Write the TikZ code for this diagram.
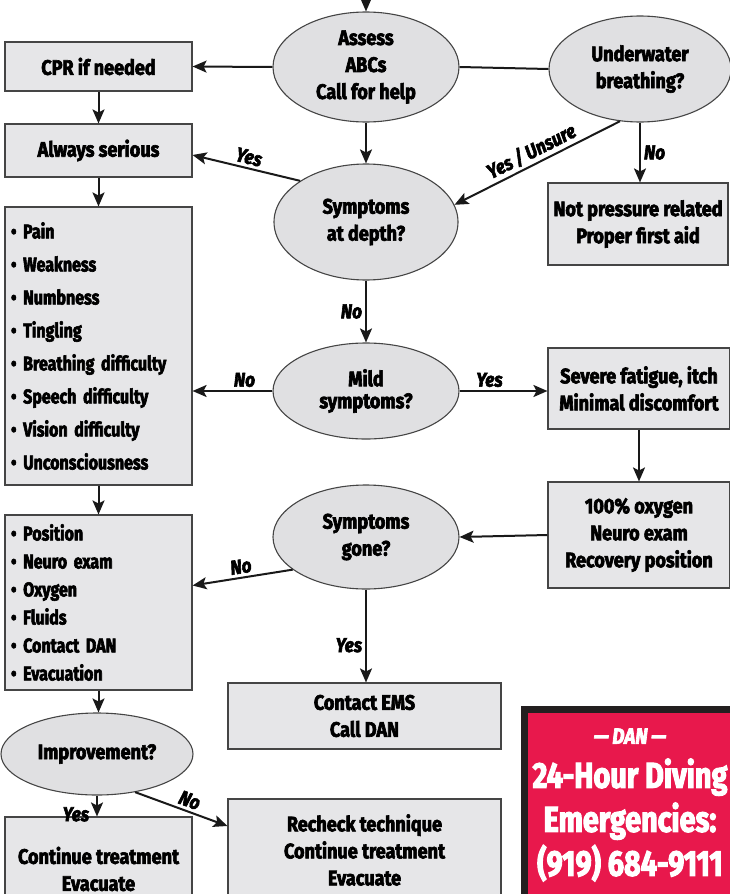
\documentclass[tikz,border=0pt]{standalone}
\usepackage{fontspec}
\setmainfont{Fira Sans}[FakeStretch=0.86, BoldFeatures={FakeBold=3}, BoldItalicFeatures={FakeBold=3}]
\newfontfamily\listfont{Fira Sans}[FakeStretch=0.8, BoldFeatures={FakeBold=3}]
\usetikzlibrary{arrows.meta,positioning,shapes.geometric}
\definecolor{boxgray}{HTML}{E6E6E8}
\definecolor{ovalgray}{HTML}{E0E0E2}
\definecolor{edgegray}{HTML}{454545}
\definecolor{danred}{HTML}{E8184C}
\definecolor{danblack}{HTML}{231F20}
\tikzset{
  dcsbox/.style={draw=edgegray, line width=1.1pt, fill=boxgray, align=center, inner sep=0pt, font=\bfseries\fontsize{21}{27}\selectfont},
  dcslist/.style={dcsbox, align=left, text width=175pt, inner xsep=6pt, inner ysep=0pt},
  dcsoval/.style={ellipse, draw=edgegray, line width=1.1pt, fill=ovalgray, align=center, inner sep=0pt, font=\bfseries\fontsize{21}{27}\selectfont},
  dcsarrow/.style={-{Stealth[length=14pt,width=12pt,inset=3pt]}, line width=2pt, draw=black!90},
  dcsline/.style={line width=2pt, draw=black!90},
  dcslabel/.style={font=\bfseries\itshape\fontsize{20}{22}\selectfont, inner sep=3pt},
  danbox/.style={draw=danblack, line width=7pt, fill=danred, text=white, align=center, inner sep=0pt}
}
\begin{document}
\begin{tikzpicture}[x=1pt, y=-1pt]
\useasboundingbox (0,0) rectangle (730,894);
% ovals
\node[dcsoval, minimum width=186pt, minimum height=110pt] (assess) at (366,67) {Assess\\ABCs\\Call for help};
\node[dcsoval, minimum width=182pt, minimum height=106pt] (underwater) at (640,69) {Underwater\\breathing?};
\node[dcsoval, minimum width=184pt, minimum height=116pt] (symdepth) at (366,222) {Symptoms\\at depth?};
\node[dcsoval, minimum width=186pt, minimum height=96pt, font=\bfseries\fontsize{21}{22}\selectfont] (mild) at (366,391) {Mild\\symptoms?};
\node[dcsoval, minimum width=186pt, minimum height=104pt] (gone) at (366,537) {Symptoms\\gone?};
\node[dcsoval, minimum width=192pt, minimum height=82pt] (improve) at (97,754) {Improvement?};
% boxes
\node[dcsbox, minimum width=187pt, minimum height=49pt] (cpr) at (98.5,66.5) {CPR if needed};
\node[dcsbox, minimum width=187pt, minimum height=53pt] (always) at (98.5,150.5) {Always serious};
\node[dcsbox, minimum width=180pt, minimum height=82pt] (notpress) at (638,224) {Not pressure related\\Proper first aid};
\node[dcslist, minimum height=278pt, font=\listfont\bfseries\fontsize{20}{33}\selectfont] (symlist) at (98.5,346) {%
\textbullet\ Pain\\\textbullet\ Weakness\\\textbullet\ Numbness\\\textbullet\ Tingling\\\textbullet\ Breathing difficulty\\\textbullet\ Speech difficulty\\\textbullet\ Vision difficulty\\\textbullet\ Unconsciousness};
\node[dcsbox, minimum width=182pt, minimum height=81pt] (severe) at (639,388.5) {Severe fatigue, itch\\Minimal discomfort};
\node[dcsbox, minimum width=182pt, minimum height=106pt] (oxygen) at (639,535) {100\% oxygen\\Neuro exam\\Recovery position};
\node[dcslist, minimum height=175pt, font=\listfont\bfseries\fontsize{20}{28}\selectfont] (position) at (98.5,602.5) {%
\textbullet\ Position\\\textbullet\ Neuro exam\\\textbullet\ Oxygen\\\textbullet\ Fluids\\\textbullet\ Contact DAN\\\textbullet\ Evacuation};
\node[dcsbox, minimum width=273pt, minimum height=66pt] (ems) at (364.5,716) {Contact EMS\\Call DAN};
\node[dcsbox, minimum width=187pt, minimum height=104pt] (cont) at (98.5,869) {Continue treatment\\Evacuate};
\node[dcsbox, minimum width=273pt, minimum height=102pt] (recheck) at (364.5,850) {Recheck technique\\Continue treatment\\Evacuate};
\node[danbox, minimum width=211pt, minimum height=191pt, font=\listfont\bfseries\fontsize{36}{44}\selectfont] (hotline) at (630,805) {%
{\rmfamily\itshape\fontsize{22}{34}\selectfont ---\,DAN\,---}\\24-Hour Diving\\Emergencies:\\(919) 684-9111};
% connectors
\coordinate (entry) at (366,-4);
\draw[dcsarrow] (entry) -- (assess.north);
\draw[dcsarrow] (assess.west) -- (cpr.east);
\draw[dcsline] (assess.east) -- (underwater.west);
\draw[dcsarrow] (cpr) -- (always);
\draw[dcsarrow] (always) -- (symlist);
\draw[dcsarrow] (assess.south) -- (symdepth.north);
\draw[dcsarrow] (symdepth.148) -- node[dcslabel, above, sloped] {Yes} ([yshift=-4.5pt]always.east);
\draw[dcsarrow] (underwater.249) -- node[dcslabel, above, sloped] {Yes / Unsure} (symdepth.11);
\draw[dcsarrow] (underwater.south) -- node[dcslabel, right] {No} (underwater.south |- notpress.north);
\draw[dcsarrow] (symdepth.south) -- node[dcslabel, left] {No} (mild.north);
\draw[dcsarrow] (mild.west) -- node[dcslabel, above, pos=0.35] {No} (mild.west -| symlist.east);
\draw[dcsarrow] (mild.east) -- node[dcslabel, above, pos=0.34] {Yes} (mild.east -| severe.west);
\draw[dcsarrow] (severe) -- (oxygen);
\draw[dcsarrow] (oxygen.west) -- (gone.east);
\draw[dcsarrow] (gone.204) -- node[dcslabel, above, sloped] {No} ([yshift=17pt]position.east);
\draw[dcsarrow] (gone.south) -- node[dcslabel, left, pos=0.6] {Yes} (ems.north -| gone.south);
\draw[dcsarrow] (symlist) -- (position);
\draw[dcsarrow] (position.south) -- (position.south |- improve.north);
\draw[dcsarrow] (improve.south) -- node[dcslabel, left, pos=0.9, xshift=-4pt] {Yes} (improve.south |- cont.north);
\draw[dcsarrow] (improve.315) -- node[dcslabel, above, sloped, pos=0.55] {No} ([yshift=24pt]recheck.west);
\end{tikzpicture}
\end{document}
